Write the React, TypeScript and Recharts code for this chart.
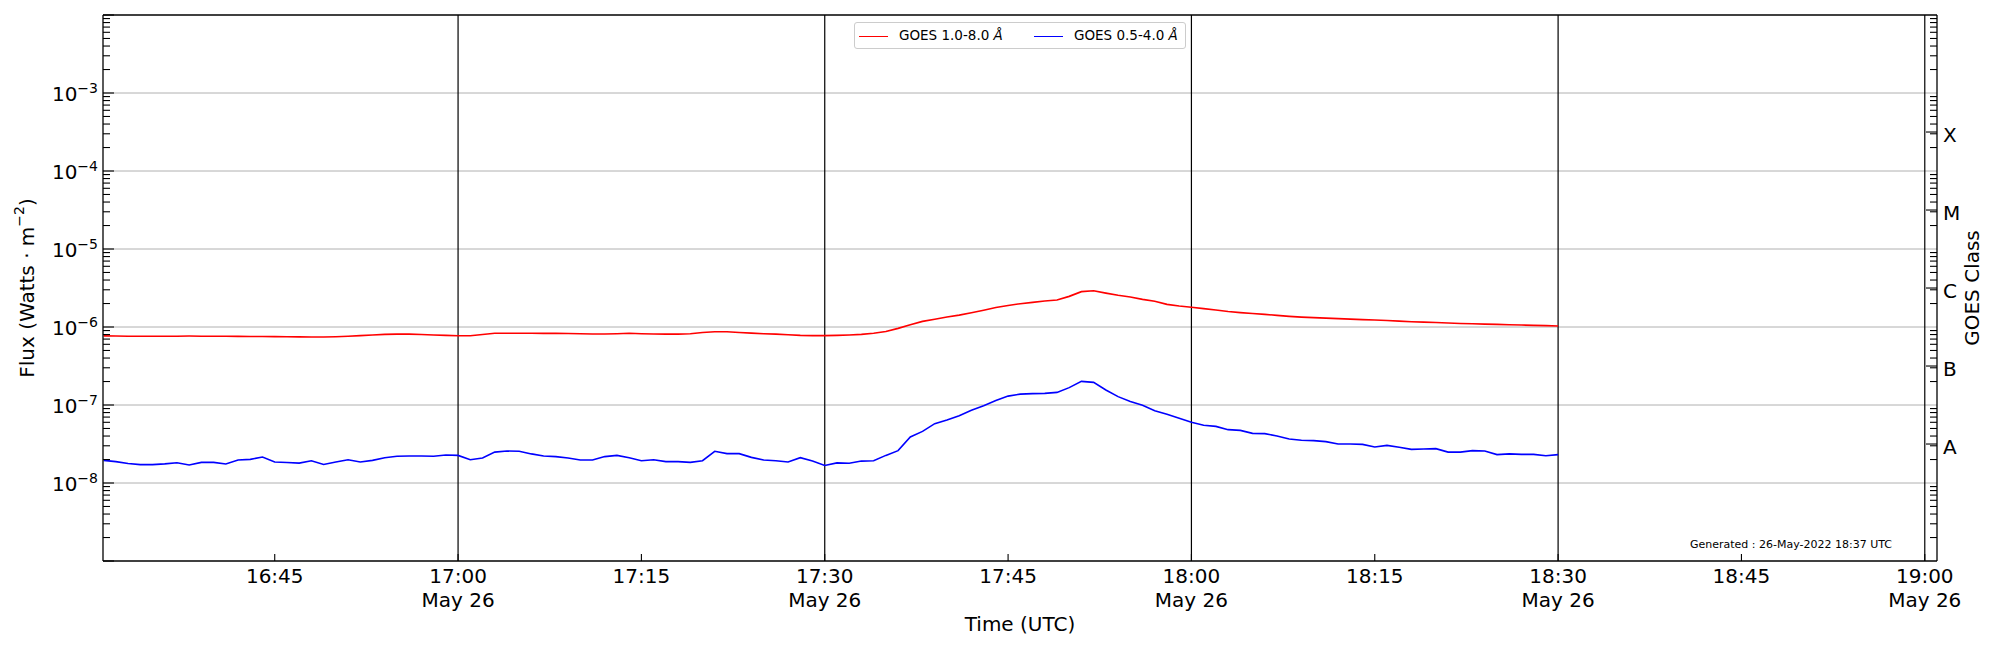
import React from "react";
import { Legend, Line, LineChart, ReferenceLine, XAxis, YAxis } from "recharts";

// one sample per minute, first at 16:31 UTC on May 26
const startMinute = 31;

// GOES 1.0-8.0 Å, in units of 1e-7 W m^-2
const longFlux = [
  7.7, 7.65, 7.6, 7.6, 7.6, 7.62, 7.62, 7.65, 7.62, 7.6,
  7.6, 7.58, 7.55, 7.55, 7.52, 7.5, 7.47, 7.45, 7.45, 7.5,
  7.6, 7.75, 7.9, 8.05, 8.1, 8.1, 8.0, 7.9, 7.8, 7.74,
  7.74, 8.0, 8.3, 8.3, 8.32, 8.3, 8.28, 8.3, 8.25, 8.2,
  8.15, 8.15, 8.2, 8.3, 8.2, 8.15, 8.1, 8.1, 8.2, 8.5,
  8.7, 8.7, 8.5, 8.35, 8.2, 8.1, 7.95, 7.8, 7.75, 7.75,
  7.8, 7.9, 8.05, 8.3, 8.75, 9.6, 10.7, 11.8, 12.6, 13.4,
  14.2, 15.2, 16.4, 17.8, 18.9, 19.9, 20.7, 21.5, 22.2, 24.7,
  28.4, 29.2, 27.2, 25.5, 24.2, 22.6, 21.4, 19.5, 18.6, 17.9,
  17.2, 16.5, 15.8, 15.3, 14.9, 14.5, 14.1, 13.7, 13.4, 13.2,
  13.0, 12.8, 12.6, 12.45, 12.3, 12.1, 11.9, 11.7, 11.55, 11.4,
  11.25, 11.1, 11.0, 10.9, 10.8, 10.7, 10.6, 10.5, 10.4, 10.3,
];

// GOES 0.5-4.0 Å, in units of 1e-8 W m^-2
const shortFlux = [
  1.95, 1.88, 1.78, 1.72, 1.72, 1.76, 1.82, 1.7, 1.84, 1.84,
  1.75, 1.97, 2.01, 2.15, 1.86, 1.83, 1.8, 1.93, 1.73, 1.86,
  1.99, 1.86, 1.95, 2.11, 2.2, 2.22, 2.22, 2.2, 2.29, 2.26,
  1.99, 2.09, 2.49, 2.57, 2.55, 2.36, 2.22, 2.18, 2.09, 1.97,
  1.97, 2.18, 2.26, 2.11, 1.93, 1.99, 1.88, 1.88, 1.84, 1.93,
  2.55, 2.38, 2.38, 2.13, 1.97, 1.93, 1.86, 2.11, 1.91, 1.68,
  1.81, 1.79, 1.91, 1.93, 2.26, 2.6, 3.89, 4.59, 5.76, 6.43,
  7.3, 8.55, 9.8, 11.4, 13.0, 13.8, 14.0, 14.1, 14.5, 16.7,
  20.1, 19.5, 15.6, 12.8, 11.1, 9.9, 8.46, 7.59, 6.74, 6.0,
  5.5, 5.32, 4.83, 4.73, 4.33, 4.29, 4.01, 3.67, 3.53, 3.49,
  3.39, 3.16, 3.16, 3.13, 2.9, 3.04, 2.87, 2.7, 2.73, 2.76,
  2.49, 2.49, 2.6, 2.57, 2.31, 2.36, 2.33, 2.33, 2.24, 2.31,
];

const seriesNames = ["GOES 1.0-8.0", "GOES 0.5-4.0"];
const seriesColors = ["#ff0000", "#0000ff"];

// minutes after 16:00
const timeTicks = [45, 60, 75, 90, 105, 120, 135, 150, 165, 180];
const dayTicks = [60, 90, 120, 150, 180];
const dayLabel = "May 26";
const timeDomain = [30.95, 181.0];

const decades = [-9, -8, -7, -6, -5, -4, -3, -2];
const labelledDecades = [-8, -7, -6, -5, -4, -3];
const subs = [2, 3, 4, 5, 6, 7, 8, 9];
const classLevels = [3.16e-8, 3.16e-7, 3.16e-6, 3.16e-5, 3.16e-4];
const classLabels = ["A", "B", "C", "M", "X"];

const fluxDomain = [1e-9, 1e-2];
const font = "DejaVu Sans";

const data = longFlux.map((v, i) => ({
  t: startMinute + i,
  long: v * 1e-7,
  short: shortFlux[i] * 1e-8,
}));

const minorTicks = decades.slice(0, -1).flatMap(e => subs.map(s => s * Math.pow(10, e)));
const leftTicks = [...decades.map(e => Math.pow(10, e)), ...minorTicks].sort((a, b) => a - b);
const rightTicks = [...minorTicks, ...classLevels].sort((a, b) => a - b);

function isDecade(v: number) {
  const l = Math.log10(v);
  return Math.abs(l - Math.round(l)) < 1e-6;
}

function LeftTick({ x, y, payload }: any) {
  const v = payload.value;
  const major = isDecade(v);
  const e = Math.round(Math.log10(v));
  return (
    <g>
      <line x1={x} x2={x + (major ? 11 : 7)} y1={y} y2={y} stroke="#000" strokeWidth={1.1} />
      {major && labelledDecades.includes(e) && (
        <text x={x - 5} y={y + 8} textAnchor="end" fontSize={20} fill="#000" fontFamily={font}>
          10
          <tspan dy={-8} fontSize={14}>{`\u2212${-e}`}</tspan>
        </text>
      )}
    </g>
  );
}

function RightTick({ x, y, payload }: any) {
  const idx = classLevels.indexOf(payload.value);
  return (
    <g>
      <line x1={x} x2={x - (idx >= 0 ? 11 : 7)} y1={y} y2={y} stroke="#000" strokeWidth={1.1} />
      {idx >= 0 && (
        <text x={x + 6} y={y + 10} fontSize={20} fill="#000" fontFamily={font}>
          {classLabels[idx]}
        </text>
      )}
    </g>
  );
}

function TimeTick({ x, y, payload }: any) {
  const m = payload.value;
  const label = `${16 + Math.floor(m / 60)}:${String(m % 60).padStart(2, "0")}`;
  return (
    <g>
      <line x1={x} x2={x} y1={y} y2={y - 7} stroke="#000" strokeWidth={1.1} />
      <text x={x} y={y + 22} textAnchor="middle" fontSize={20} fill="#000" fontFamily={font}>
        {label}
      </text>
      {dayTicks.includes(m) && (
        <text x={x} y={y + 46} textAnchor="middle" fontSize={20} fill="#000" fontFamily={font}>
          {dayLabel}
        </text>
      )}
    </g>
  );
}

function LegendBox() {
  return (
    <div
      style={{
        position: "relative",
        width: 332,
        height: 27,
        boxSizing: "border-box",
        border: "1px solid #cccccc",
        borderRadius: 3,
        background: "rgba(255,255,255,0.8)",
        fontFamily: font,
        fontSize: 13.5,
        color: "#000",
      }}
    >
      {seriesNames.map((name, i) => (
        <React.Fragment key={name}>
          <div
            style={{
              position: "absolute",
              left: 4 + i * 175,
              top: 13,
              width: 29,
              height: 0,
              borderTop: `1.5px solid ${seriesColors[i]}`,
            }}
          />
          <div style={{ position: "absolute", left: 44 + i * 175, top: 4, whiteSpace: "nowrap" }}>
            {name} <i>Å</i>
          </div>
        </React.Fragment>
      ))}
    </div>
  );
}

export default function App() {
  return (
    <div style={{ position: "absolute", left: 0, top: 0, fontFamily: font }}>
      <LineChart width={2000} height={650} data={data} margin={{ top: 15, right: 0, bottom: 0, left: 0 }}>
        <XAxis
          dataKey="t"
          type="number"
          domain={timeDomain}
          allowDataOverflow
          ticks={timeTicks}
          interval={0}
          height={89}
          tickSize={0}
          tickMargin={0}
          tickLine={false}
          tick={<TimeTick />}
          axisLine={{ stroke: "#000", strokeWidth: 1.3 }}
        />
        <YAxis
          yAxisId="left"
          type="number"
          scale="log"
          domain={fluxDomain}
          allowDataOverflow
          ticks={leftTicks}
          interval={0}
          width={103}
          tickSize={0}
          tickMargin={0}
          tickLine={false}
          tick={<LeftTick />}
          axisLine={{ stroke: "#000", strokeWidth: 1.3 }}
        />
        <YAxis
          yAxisId="right"
          orientation="right"
          type="number"
          scale="log"
          domain={fluxDomain}
          allowDataOverflow
          ticks={rightTicks}
          interval={0}
          width={63}
          tickSize={0}
          tickMargin={0}
          tickLine={false}
          tick={<RightTick />}
          axisLine={{ stroke: "#000", strokeWidth: 1.3 }}
        />
        {labelledDecades.map(e => (
          <ReferenceLine key={e} yAxisId="left" y={Math.pow(10, e)} stroke="#b0b0b0" strokeWidth={1} />
        ))}
        {dayTicks.map(m => (
          <ReferenceLine key={m} yAxisId="left" x={m} stroke="#000" strokeWidth={1.2} />
        ))}
        <ReferenceLine yAxisId="left" y={fluxDomain[1]} stroke="#000" strokeWidth={1.3} />
        <Line
          yAxisId="left"
          dataKey="long"
          type="linear"
          stroke={seriesColors[0]}
          strokeWidth={1.6}
          dot={false}
          isAnimationActive={false}
        />
        <Line
          yAxisId="left"
          dataKey="short"
          type="linear"
          stroke={seriesColors[1]}
          strokeWidth={1.6}
          dot={false}
          isAnimationActive={false}
        />
        <Legend
          layout="horizontal"
          verticalAlign="middle"
          align="center"
          wrapperStyle={{ left: 854, top: 22, width: 332, height: 27 }}
          content={() => <LegendBox />}
        />
        <text x={27} y={288} transform="rotate(-90 27 288)" textAnchor="middle" dominantBaseline="central" fontSize={20} fontFamily={font} fill="#000">
          Flux (Watts · m
          <tspan dy={-8} fontSize={14}>{"\u22122"}</tspan>
          <tspan dy={8}>)</tspan>
        </text>
        <text x={1972} y={288} transform="rotate(-90 1972 288)" textAnchor="middle" dominantBaseline="central" fontSize={20} fontFamily={font} fill="#000">
          GOES Class
        </text>
        <text x={1020} y={631} textAnchor="middle" fontSize={20} fontFamily={font} fill="#000">
          Time (UTC)
        </text>
        <text x={1892} y={548} textAnchor="end" fontSize={11} fontFamily={font} fill="#000">
          Generated : 26-May-2022 18:37 UTC
        </text>
      </LineChart>
    </div>
  );
}
